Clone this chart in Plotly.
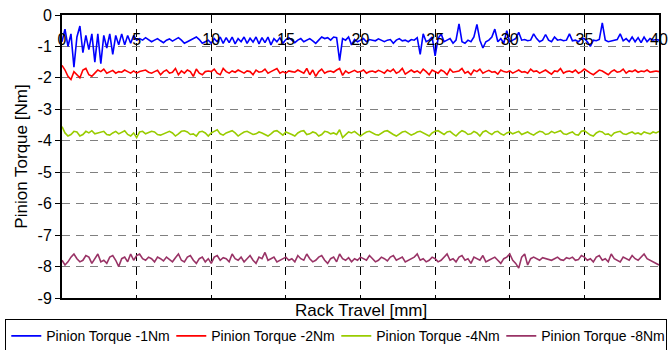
import plotly.graph_objects as go

step_mm = 0.2

torque_1nm = [
    -0.85,-0.45,-1.0,-0.6,-1.66,-0.7,-0.35,-1.2,-0.65,-1.1,-0.6,-1.5,-0.6,-1.55,-0.65,-1.05,-0.6,-1.25,-0.65,-0.95,-0.6,-0.95,-0.65,-0.9,-0.65,
    -0.8,-0.75,-0.8,-0.72,-0.78,-0.85,-0.8,-0.75,-0.82,-0.88,-0.8,-0.76,-0.83,-0.78,-0.72,-0.8,-0.9,-0.85,-0.8,-0.75,-0.7,-0.78,-0.9,-0.85,-0.8,
    -0.9,-0.75,-0.85,-0.7,-0.9,-0.72,-0.88,-0.7,-0.92,-0.75,-0.85,-0.7,-0.9,-0.74,-0.86,-0.7,-0.92,-0.72,-0.88,-0.7,-0.95,-0.75,-0.85,-0.72,-0.9,
    -0.78,-0.72,-0.8,-0.88,-0.8,-0.75,-0.85,-0.8,-0.75,-0.82,-0.9,-0.8,-0.7,-0.75,-0.72,-0.8,-0.7,-0.72,-1.45,-0.75,-0.8,-0.7,-0.95,-0.78,-0.85,
    -0.8,-0.75,-0.85,-0.78,-0.8,-0.82,-0.76,-0.8,-0.85,-0.8,-0.78,-0.9,-0.8,-0.75,-0.82,-0.8,-0.85,-0.78,-0.8,-0.72,-1.25,-0.6,-0.85,-0.8,-0.7,
    -1.3,-0.75,-0.6,-0.85,-0.8,-0.75,-0.9,-0.8,-0.28,-0.85,-0.9,-0.8,-0.85,-0.7,-0.3,-0.8,-1.05,-0.85,-0.8,-0.7,-0.45,-0.85,-0.75,-0.9,-0.5,
    -0.85,-0.8,-0.75,-0.55,-0.8,-0.78,-0.82,-0.8,-0.6,-0.75,-0.85,-0.8,-0.62,-0.8,-0.85,-0.7,-0.8,-0.78,-0.82,-0.8,-0.6,-0.82,-0.8,-0.85,-0.75,
    -0.75,-0.85,-1.0,-0.8,-0.82,-0.78,-0.25,-0.8,-0.85,-0.82,-0.8,-0.78,-0.6,-0.82,-0.75,-0.85,-0.7,-0.85,-0.72,-0.88,-0.7,-0.85,-0.75,-0.8,-0.78,
    -0.8,
]

torque_2nm = [
    -1.6,-1.75,-1.95,-2.05,-1.8,-1.9,-2.0,-1.75,-1.7,-1.9,-1.95,-1.85,-1.75,-1.8,-1.72,-1.85,-1.8,-1.76,-1.85,-1.8,-1.82,-1.75,-1.8,-1.85,-1.78,
    -1.85,-1.8,-1.78,-1.75,-1.82,-1.85,-1.8,-1.76,-1.9,-1.8,-1.75,-1.85,-1.82,-1.7,-1.9,-1.78,-1.85,-1.75,-1.8,-1.95,-1.72,-1.85,-1.9,-1.8,-1.78,
    -1.8,-1.72,-1.85,-1.9,-1.7,-1.8,-1.85,-1.78,-1.82,-1.75,-1.8,-1.85,-1.78,-1.8,-1.9,-1.75,-1.82,-1.8,-1.72,-1.85,-1.8,-1.75,-1.7,-1.85,-1.8,
    -1.85,-1.78,-1.8,-1.82,-1.75,-1.8,-1.85,-1.7,-1.9,-1.75,-1.95,-1.8,-1.72,-1.85,-1.8,-1.78,-1.82,-1.75,-1.7,-1.92,-1.78,-1.85,-1.8,-1.76,-1.82,
    -1.8,-1.75,-1.85,-1.8,-1.78,-1.82,-1.76,-1.8,-1.85,-1.75,-1.8,-1.72,-1.85,-1.8,-1.7,-1.88,-1.8,-1.75,-1.82,-1.78,-1.85,-1.72,-1.8,-1.9,-1.75,
    -1.8,-1.85,-1.75,-1.8,-1.9,-1.72,-1.82,-1.8,-1.78,-1.7,-1.85,-1.8,-1.9,-1.75,-1.8,-1.72,-1.85,-1.8,-1.76,-1.82,-1.8,-1.88,-1.75,-1.8,-1.82,
    -1.78,-1.85,-1.8,-1.75,-1.82,-1.8,-1.85,-1.72,-1.8,-1.78,-1.85,-1.8,-1.75,-1.82,-1.88,-1.78,-1.8,-1.7,-1.85,-1.8,-1.78,-1.82,-1.75,-1.85,-1.8,
    -1.72,-1.8,-1.85,-1.9,-1.82,-1.75,-1.78,-1.85,-1.9,-1.8,-1.75,-1.82,-1.8,-1.72,-1.85,-1.78,-1.8,-1.75,-1.82,-1.78,-1.8,-1.75,-1.82,-1.8,-1.78,
    -1.8,
]

torque_4nm = [
    -3.55,-3.75,-3.85,-3.8,-3.7,-3.72,-3.85,-3.8,-3.7,-3.75,-3.68,-3.78,-3.75,-3.72,-3.7,-3.8,-3.82,-3.75,-3.7,-3.78,-3.72,-3.68,-3.8,-3.85,-3.75,
    -3.9,-3.72,-3.7,-3.78,-3.75,-3.7,-3.72,-3.8,-3.82,-3.78,-3.72,-3.7,-3.75,-3.85,-3.78,-3.7,-3.68,-3.72,-3.8,-3.78,-3.85,-3.72,-3.7,-3.75,-3.85,
    -3.75,-3.7,-3.65,-3.78,-3.82,-3.75,-3.72,-3.68,-3.75,-3.85,-3.78,-3.72,-3.7,-3.75,-3.8,-3.78,-3.72,-3.75,-3.8,-3.85,-3.78,-3.7,-3.68,-3.75,-3.82,
    -3.72,-3.75,-3.8,-3.85,-3.75,-3.7,-3.68,-3.8,-3.78,-3.72,-3.75,-3.85,-3.8,-3.7,-3.72,-3.78,-3.75,-3.8,-3.65,-3.9,-3.82,-3.72,-3.75,-3.7,-3.78,
    -3.85,-3.78,-3.72,-3.7,-3.75,-3.8,-3.82,-3.75,-3.7,-3.68,-3.75,-3.8,-3.85,-3.78,-3.72,-3.7,-3.75,-3.82,-3.78,-3.72,-3.7,-3.75,-3.8,-3.85,-3.75,
    -3.7,-3.68,-3.75,-3.8,-3.72,-3.7,-3.78,-3.85,-3.75,-3.68,-3.72,-3.8,-3.78,-3.7,-3.75,-3.85,-3.72,-3.68,-3.75,-3.8,-3.72,-3.7,-3.78,-3.82,-3.75,
    -3.72,-3.78,-3.75,-3.7,-3.8,-3.75,-3.72,-3.78,-3.82,-3.75,-3.7,-3.72,-3.8,-3.78,-3.7,-3.75,-3.72,-3.68,-3.78,-3.8,-3.75,-3.72,-3.8,-3.82,-3.7,
    -3.68,-3.75,-3.82,-3.85,-3.75,-3.7,-3.72,-3.8,-3.78,-3.85,-3.75,-3.72,-3.7,-3.78,-3.8,-3.75,-3.72,-3.78,-3.75,-3.8,-3.72,-3.75,-3.78,-3.72,-3.75,
    -3.7,
]

torque_8nm = [
    -7.8,-7.95,-7.85,-7.7,-7.6,-7.75,-7.85,-7.8,-7.65,-7.7,-7.9,-7.75,-7.6,-7.85,-7.8,-7.9,-7.7,-7.65,-7.8,-8.0,-7.75,-7.7,-7.85,-7.6,-7.8,
    -7.65,-7.6,-7.75,-7.8,-7.7,-7.75,-7.85,-7.7,-7.75,-7.82,-7.7,-7.78,-7.85,-7.72,-7.6,-7.8,-7.85,-7.7,-7.65,-7.8,-7.9,-7.75,-7.7,-7.85,-7.75,
    -7.9,-7.7,-7.65,-7.8,-7.72,-7.75,-7.85,-7.6,-7.75,-7.8,-7.7,-7.85,-7.75,-7.65,-7.8,-7.9,-7.7,-7.75,-7.55,-7.8,-7.75,-7.7,-7.85,-7.8,-7.75,
    -7.7,-7.8,-7.75,-7.85,-7.65,-7.75,-7.8,-7.6,-7.75,-7.85,-7.8,-7.7,-7.65,-7.8,-7.9,-7.75,-7.7,-7.85,-7.6,-7.75,-7.8,-7.72,-7.85,-7.75,-7.8,
    -7.7,-7.75,-7.8,-7.65,-7.75,-7.85,-7.8,-7.7,-7.75,-7.82,-7.7,-7.65,-7.8,-7.75,-7.7,-7.85,-7.8,-7.75,-7.7,-7.6,-7.8,-7.75,-7.85,-7.8,-7.7,
    -7.75,-7.85,-7.8,-7.7,-7.6,-7.8,-7.75,-7.85,-7.7,-7.65,-7.8,-7.75,-7.9,-7.7,-7.75,-7.8,-7.65,-7.85,-7.8,-7.75,-7.7,-7.8,-7.9,-7.75,-7.7,
    -7.6,-7.8,-7.9,-8.05,-7.7,-7.6,-7.95,-7.75,-7.7,-7.75,-7.8,-7.72,-7.75,-7.78,-7.8,-7.75,-7.7,-7.78,-7.8,-7.72,-7.75,-7.7,-7.8,-7.78,-7.65,
    -7.7,-7.8,-7.75,-7.85,-7.7,-7.65,-7.8,-7.75,-7.85,-7.6,-7.75,-7.8,-7.85,-7.7,-7.75,-7.8,-7.65,-7.75,-7.8,-7.7,-7.6,-7.75,-7.8,-7.85,-7.9,
    -7.95,
]

series_names = ["Pinion Torque -1Nm", "Pinion Torque -2Nm", "Pinion Torque -4Nm", "Pinion Torque -8Nm"]
series_values = [torque_1nm, torque_2nm, torque_4nm, torque_8nm]
series_colors = ["#0000FF", "#FF0000", "#99CC00", "#993366"]

x_ticks = [0, 5, 10, 15, 20, 25, 30, 35, 40]
y_ticks = [0, -1, -2, -3, -4, -5, -6, -7, -8, -9]

fig = go.Figure()
for name, vals, col in zip(series_names, series_values, series_colors):
    xs = [round(i * step_mm, 2) for i in range(len(vals))]
    fig.add_trace(go.Scatter(x=xs, y=vals, mode="lines", name=name,
                             line=dict(color=col, width=1.6)))

font_family = "Liberation Sans, Arial, sans-serif"

fig.update_layout(
    width=670, height=350,
    margin=dict(l=62, r=11, t=15, b=52, autoexpand=False),
    paper_bgcolor="white", plot_bgcolor="white",
    font=dict(family=font_family, size=16, color="black"),
    showlegend=True,
    legend=dict(
        orientation="h", x=-0.095, xanchor="left", y=-0.075, yanchor="top",
        bordercolor="black", borderwidth=1, bgcolor="white",
        font=dict(size=14, family=font_family),
        entrywidth=120, entrywidthmode="pixels",
        itemwidth=30, tracegroupgap=0,
    ),
    xaxis=dict(
        range=[0, 40], side="top", tickvals=x_ticks,
        ticktext=[str(v) for v in x_ticks],
        ticklabelposition="outside", ticklabelstandoff=-38,
        automargin=False,
        ticks="", showline=True, linecolor="black", linewidth=2, mirror=True,
        showgrid=True, gridcolor="black", gridwidth=1, griddash="8px,6px",
        zeroline=False, tickfont=dict(size=16),
    ),
    yaxis=dict(
        range=[-9, 0], tickvals=y_ticks, ticktext=[str(v) for v in y_ticks],
        ticks="outside", ticklen=5, tickcolor="black", automargin=False,
        showline=True, linecolor="black", linewidth=2, mirror=True,
        showgrid=True, gridcolor="#808080", gridwidth=1, griddash="8px,6px",
        zeroline=False, tickfont=dict(size=16),
        title=dict(text="Pinion Torque [Nm]", font=dict(size=17), standoff=6),
    ),
    annotations=[
        dict(text="Rack Travel [mm]", xref="paper", yref="paper",
             x=0.5, y=-0.005, xanchor="center", yanchor="top",
             showarrow=False, font=dict(size=17)),
    ],
)

fig.write_html("out.html",
               config={"displayModeBar": False},
               post_script="document.body.style.margin='0';document.body.style.overflow='hidden';")
